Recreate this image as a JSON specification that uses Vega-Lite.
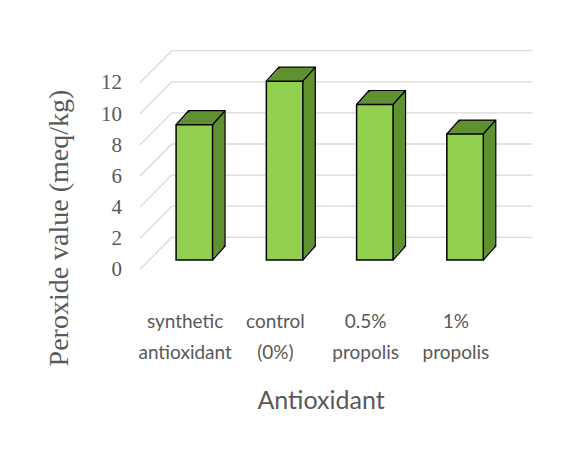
{
  "$schema": "https://vega.github.io/schema/vega-lite/v6.json",
  "width": 361,
  "height": 186.6,
  "autosize": {"type": "none"},
  "padding": {"left": 149.2, "top": 73.4, "right": 66.8, "bottom": 190},
  "background": "white",
  "config": {"view": {"stroke": null}},
  "datasets": {
    "pv": [
      {"antioxidant": "synthetic antioxidant", "pv": 8.7},
      {"antioxidant": "control (0%)", "pv": 11.5},
      {"antioxidant": "0.5% propolis", "pv": 10.0},
      {"antioxidant": "1% propolis", "pv": 8.1}
    ],
    "grid": [{"pv": 0}, {"pv": 2}, {"pv": 4}, {"pv": 6}, {"pv": 8}, {"pv": 10}, {"pv": 12}]
  },
  "data": {"name": "pv"},
  "encoding": {
    "x": {
      "field": "antioxidant", "type": "nominal", "sort": null,
      "scale": {"paddingInner": 0.596, "paddingOuter": 0.298},
      "axis": {
        "title": "Antioxidant", "labelAngle": 0, "labelAlign": "center", "domain": false, "ticks": false, "grid": false,
        "labelFont": "Lato", "labelFontSize": 19, "labelColor": "#595959", "labelOffset": -9.2, "labelPadding": 52,
        "labelLineHeight": 31.5, "labelExpr": "split(datum.label, ' ')", "labelOverlap": false,
        "titleFont": "Lato", "titleFontSize": 25, "titleFontWeight": "normal", "titleColor": "#595959",
        "titleX": 171.4, "titleY": 148.3, "titleBaseline": "alphabetic", "titleAlign": "center"
      }
    },
    "y": {
      "field": "pv", "type": "quantitative",
      "scale": {"domain": [0, 12], "nice": false},
      "axis": {
        "title": "Peroxide value (meq/kg)", "values": [0, 2, 4, 6, 8, 10, 12],
        "domain": false, "ticks": false, "grid": false, "labelOverlap": false,
        "labelFont": "Liberation Serif", "labelFontSize": 21, "labelColor": "#595959",
        "labelOffset": 9.5, "labelPadding": 27.7,
        "titleFont": "Liberation Serif", "titleFontSize": 28, "titleFontWeight": "normal", "titleColor": "#595959",
        "titleX": -90, "titleY": 154.1, "titleAngle": 270, "titleAlign": "center", "titleBaseline": "middle"
      }
    }
  },
  "layer": [
    {
      "data": {"name": "grid"},
      "mark": {"type": "rule", "color": "#D9D9D9", "strokeWidth": 1.3, "yOffset": -22.7, "y2Offset": -22.7},
      "encoding": {
        "x": {"value": 22.5},
        "x2": {"value": 383.5},
        "y2": {"field": "pv"}
      }
    },
    {
      "data": {"name": "grid"},
      "mark": {"type": "rule", "color": "#D9D9D9", "strokeWidth": 1.3, "yOffset": 9.3, "y2Offset": -22.7},
      "encoding": {
        "x": {"value": -9.2},
        "x2": {"value": 22.5},
        "y2": {"field": "pv"}
      }
    },
    {"mark": {"type": "bar", "fill": "#609131", "stroke": "black", "strokeWidth": 1.2, "xOffset": 12.5, "yOffset": -14, "y2Offset": -14}},
    {"mark": {"type": "bar", "fill": "#609131", "xOffset": 10.94, "yOffset": -12.25, "y2Offset": -12.25}},
    {"mark": {"type": "bar", "fill": "#609131", "xOffset": 9.38, "yOffset": -10.5, "y2Offset": -10.5}},
    {"mark": {"type": "bar", "fill": "#609131", "xOffset": 7.81, "yOffset": -8.75, "y2Offset": -8.75}},
    {"mark": {"type": "bar", "fill": "#609131", "xOffset": 6.25, "yOffset": -7, "y2Offset": -7}},
    {"mark": {"type": "bar", "fill": "#609131", "xOffset": 4.69, "yOffset": -5.25, "y2Offset": -5.25}},
    {"mark": {"type": "bar", "fill": "#609131", "xOffset": 3.13, "yOffset": -3.5, "y2Offset": -3.5}},
    {"mark": {"type": "bar", "fill": "#609131", "xOffset": 1.56, "yOffset": -1.75, "y2Offset": -1.75}},
    {"mark": {"type": "bar", "fill": "#92D050", "stroke": "black", "strokeWidth": 1.5}},
    {
      "mark": {"type": "rule", "color": "black", "strokeWidth": 1.3, "xOffset": -18.23, "x2Offset": -5.73, "y2Offset": -14},
      "encoding": {"x2": {"field": "antioxidant"}, "y2": {"field": "pv"}}
    },
    {
      "mark": {"type": "rule", "color": "black", "strokeWidth": 1.3, "xOffset": 18.23, "x2Offset": 30.73, "y2Offset": -14},
      "encoding": {"x2": {"field": "antioxidant"}, "y2": {"field": "pv"}}
    },
    {
      "mark": {"type": "rule", "color": "black", "strokeWidth": 1.3, "xOffset": 18.23, "x2Offset": 30.73, "y2Offset": -14},
      "encoding": {"x2": {"field": "antioxidant"}, "y": {"datum": 0, "type": "quantitative"}, "y2": {"datum": 0}}
    }
  ]
}
